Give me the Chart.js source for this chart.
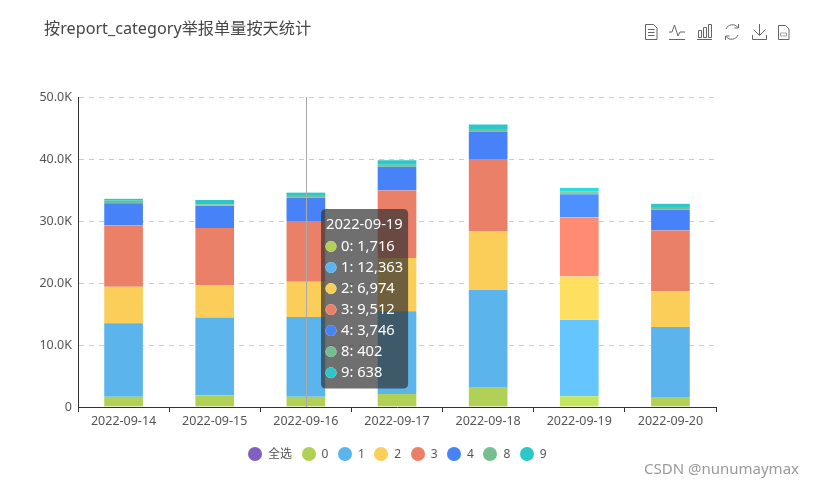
<!DOCTYPE html>
<html>
<head>
<meta charset="utf-8">
<script src="https://cdn.jsdelivr.net/npm/chart.js@4"></script>
<style>
    html, body { margin: 0; padding: 0; background: #fff; }
    body { width: 814px; height: 485px; position: relative; overflow: hidden; font-family: "Noto Sans", "Noto Sans CJK SC", sans-serif; }
    #myChart { position: absolute; left: 0; top: 0; }
    #title { position: absolute; left: 44px; top: 17px; font-size: 16.2px; line-height: 22px; color: #464646; white-space: nowrap; }
    #toolbox { position: absolute; left: 0; top: 0; }
    #legend { position: absolute; left: 248px; top: 446px; display: flex; font-size: 12px; line-height: 16px; color: #555; }
    #legend .item { display: flex; align-items: center; margin-right: 9.5px; }
    #legend .dot { width: 14px; height: 14px; border-radius: 50%; margin-right: 6px; }
    #mark { position: absolute; left: 644px; top: 458px; font-size: 15px; line-height: 20px; color: #9a9a9a; white-space: nowrap; }
</style>
</head>
<body>
<canvas id="myChart" width="814" height="485"></canvas>
<div id="title">按report_category举报单量按天统计</div>
<svg id="toolbox" width="814" height="60" fill="none" stroke="#666" stroke-width="1">
    <path d="M645.5 24.5h8l3.5 3.5v11.5h-11.5z M648 29.5h6.5 M648 32.5h6.5 M648 35.5h6.5"/>
    <path d="M669 32h3l2.5-7 3.5 11 2-4h5 M669 39.5h16"/>
    <path d="M698.5 30.5h3v7h-3z M703.5 27.5h3v10h-3z M708.5 24.5h3v13h-3z M697 39.5h15"/>
    <path d="M726 29a7 7 0 0 1 12-1.5 M738 35a7 7 0 0 1-12 1.5 M738.5 24v4h-4 M725.5 40v-4h4"/>
    <path d="M759.5 24v11 M753.5 29.5l6 6 6-6 M752.5 35v4.5h14V35"/>
    <path d="M778.5 25.5h7l3.5 3.5v10.5h-10.5z"/>
    <path d="M780.5 33h6v3h-6z" stroke-width="0.6"/>
</svg>
<div id="legend"></div>
<div id="mark">CSDN @nunumaymax</div>
<script>
var days = ["2022-09-14", "2022-09-15", "2022-09-16", "2022-09-17", "2022-09-18", "2022-09-19", "2022-09-20"];
var yTicks = [0, 10000, 20000, 30000, 40000, 50000];

var cat0 = [1665, 1835, 1665, 2096, 3210, 1716, 1605];
var cat1 = [11825, 12608, 12848, 13330, 15717, 12363, 11294];
var cat2 = [5918, 5216, 5697, 8606, 9458, 6974, 5757];
var cat3 = [9880, 9228, 9779, 10903, 11605, 9512, 9829];
var cat4 = [3561, 3611, 3761, 3821, 4413, 3746, 3310];
var cat8 = [400, 200, 430, 320, 430, 402, 450];
var cat9 = [350, 700, 420, 740, 750, 638, 550];

function makeSet(name, values, color, hover){
    return {
        label: name,
        data: values,
        backgroundColor: color,
        hoverBackgroundColor: hover,
        borderColor: "rgba(255,255,255,0.3)",
        hoverBorderColor: "rgba(255,255,255,0.3)",
        borderWidth: {left: 1, right: 1, top: 0, bottom: 0},
        barThickness: 40
    };
}

var datasets = [
    makeSet("0", cat0, "#b0d156", "#c2e65f"),
    makeSet("1", cat1, "#5bb4ec", "#64c5ff"),
    makeSet("2", cat2, "#face58", "#ffdf5f"),
    makeSet("3", cat3, "#eb8068", "#ff8c72"),
    makeSet("4", cat4, "#4782f8", "#4e90ff"),
    makeSet("8", cat8, "#73bf8f", "#7ed29d"),
    makeSet("9", cat9, "#2cc7c9", "#30dbdc")
];

// legend is plain html so it can sit where the original has it
var legendBox = document.getElementById("legend");
[{label: "全选", backgroundColor: "#7f60c0"}].concat(datasets).forEach(function(d){
    var item = document.createElement("div");
    item.className = "item";
    var dot = document.createElement("span");
    dot.className = "dot";
    dot.style.background = d.backgroundColor;
    var txt = document.createElement("span");
    txt.textContent = d.label;
    item.appendChild(dot);
    item.appendChild(txt);
    legendBox.appendChild(item);
});

Chart.Tooltip.positioners.fixedBox = function(){
    var area = this.chart.chartArea;
    return {x: area.left + 243 + 5, y: area.top + 112};
};

// vertical pointer line, sits on the third category
var pointerLine = {
    id: "pointerLine",
    afterDatasetsDraw: function(chart){
        var x = Math.round(chart.scales.x.getPixelForValue(2)) + 0.5;
        var ctx = chart.ctx;
        ctx.save();
        ctx.strokeStyle = "#aaa";
        ctx.lineWidth = 1;
        ctx.beginPath();
        ctx.moveTo(x, chart.chartArea.top);
        ctx.lineTo(x, chart.chartArea.bottom);
        ctx.stroke();
        ctx.restore();
    }
};

var font = '"Noto Sans", "Noto Sans CJK SC", sans-serif';

var chart = new Chart(document.getElementById("myChart"), {
    type: "bar",
    data: {labels: days, datasets: datasets},
    plugins: [pointerLine],
    options: {
        responsive: false,
        animation: false,
        events: [],
        layout: {padding: {left: 0, right: 98, top: 97, bottom: 48}},
        plugins: {
            legend: {display: false},
            title: {display: false},
            tooltip: {
                enabled: true,
                mode: "index",
                position: "fixedBox",
                xAlign: "left",
                yAlign: "top",
                caretSize: 0,
                caretPadding: 0,
                cornerRadius: 5,
                backgroundColor: "rgba(50,50,50,0.7)",
                titleColor: "#fff",
                bodyColor: "#fff",
                titleFont: {family: font, size: 14.7, weight: "normal"},
                bodyFont: {family: font, size: 14.7},
                titleMarginBottom: 4,
                bodySpacing: 3.4,
                padding: {left: 5, right: 5, top: 7, bottom: 7},
                usePointStyle: true,
                boxWidth: 10,
                boxHeight: 10,
                boxPadding: 3,
                callbacks: {
                    labelColor: function(item){
                        var c = item.dataset.backgroundColor;
                        return {borderColor: c, backgroundColor: c};
                    },
                    labelPointStyle: function(){
                        return {pointStyle: "circle", rotation: 0};
                    }
                }
            }
        },
        scales: {
            x: {
                stacked: true,
                afterFit: function(scale){ scale.height = 30; },
                border: {color: "#333"},
                grid: {drawOnChartArea: false, drawTicks: true, tickLength: 5, color: "#333"},
                ticks: {color: "#555", font: {family: font, size: 12.5}, padding: 2, maxRotation: 0, autoSkip: false}
            },
            y: {
                stacked: true,
                min: 0,
                max: 50000,
                afterFit: function(scale){ scale.width = 78; },
                afterBuildTicks: function(scale){
                    scale.ticks = yTicks.map(function(v){ return {value: v}; });
                },
                border: {color: "#333", dash: [5, 5]},
                grid: {color: "#ccc", drawTicks: false},
                ticks: {
                    color: "#555",
                    font: {family: font, size: 12.5},
                    padding: 6,
                    callback: function(v){
                        return v === 0 ? "0" : (v / 1000).toFixed(1) + "K";
                    }
                }
            }
        }
    }
});

// reference was captured while hovering the 09-19 stack
var active = datasets.map(function(d, i){
    return {datasetIndex: i, index: 5};
});
chart.setActiveElements(active);
chart.tooltip.setActiveElements(active, {x: 0, y: 0});
chart.update();
</script>
</body>
</html>
